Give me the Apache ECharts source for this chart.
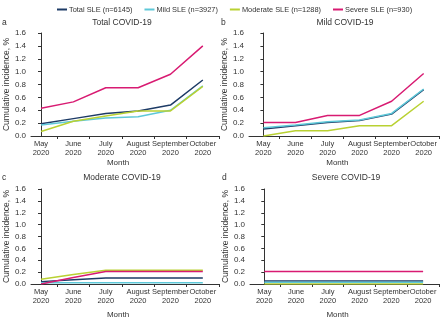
<!DOCTYPE html>
<html>
<head>
<meta charset="utf-8">
<script src="https://cdn.jsdelivr.net/npm/echarts@6/dist/echarts.min.js"></script>
<style>
  html, body { margin: 0; padding: 0; background: #fff; }
  #chart { width: 440px; height: 320px; }
</style>
</head>
<body>
<div id="chart"></div>
<script>
// categories and tick labels
const months = ['May\n2020', 'June\n2020', 'July\n2020', 'August\n2020', 'September\n2020', 'October\n2020']
const yTicks = [0, 0.2, 0.4, 0.6, 0.8, 1.0, 1.2, 1.4, 1.6]

const seriesNames = ['Total SLE (n=6145)', 'Mild SLE (n=3927)', 'Moderate SLE (n=1288)', 'Severe SLE (n=930)']
const panelTitles = ['Total COVID-19', 'Mild COVID-19', 'Moderate COVID-19', 'Severe COVID-19']
const panelLetters = ['a', 'b', 'c', 'd']

// a: total COVID-19
const totalA = [0.19, 0.27, 0.35, 0.39, 0.48, 0.87]
const mildA = [0.17, 0.23, 0.28, 0.30, 0.40, 0.78]
const moderateA = [0.07, 0.23, 0.31, 0.39, 0.39, 0.77]
const severeA = [0.43, 0.53, 0.75, 0.75, 0.96, 1.40]

// b: mild COVID-19
const totalB = [0.11, 0.16, 0.21, 0.24, 0.34, 0.72]
const mildB = [0.13, 0.17, 0.22, 0.25, 0.35, 0.73]
const moderateB = [0.0, 0.08, 0.08, 0.16, 0.16, 0.54]
const severeB = [0.21, 0.21, 0.32, 0.32, 0.54, 0.97]

// c: moderate COVID-19
const totalC = [0.04, 0.07, 0.10, 0.10, 0.10, 0.10]
const mildC = [0.02, 0.02, 0.02, 0.02, 0.02, 0.02]
const moderateC = [0.08, 0.16, 0.23, 0.23, 0.23, 0.23]
const severeC = [0.0, 0.11, 0.21, 0.21, 0.21, 0.21]

// d: severe COVID-19
const totalD = [0.05, 0.05, 0.05, 0.05, 0.05, 0.05]
const mildD = [0.03, 0.03, 0.03, 0.03, 0.03, 0.03]
const moderateD = [0.0, 0.0, 0.0, 0.0, 0.0, 0.0]
const severeD = [0.21, 0.21, 0.21, 0.21, 0.21, 0.21]

const panels = [
  [totalA, mildA, moderateA, severeA],
  [totalB, mildB, moderateB, severeB],
  [totalC, mildC, moderateC, severeC],
  [totalD, mildD, moderateD, severeD],
]

const colors = ['#1d3b66', '#5ec8d8', '#b9d132', '#d81b72']
const font = 'Liberation Sans, Arial, Helvetica, sans-serif'
const ink = '#333'

// layout per panel
const grids = [
  { left: 31, top: 33, width: 188, height: 103 },
  { left: 249, top: 33, width: 191, height: 103 },
  { left: 31, top: 189, width: 188, height: 102 },
  { left: 250, top: 189, width: 189, height: 102 },
]
const xMins = [-0.31, -0.45, -0.31, -0.45]
const letterPos = [[2, 18], [221, 18], [2, 173], [222, 173]]
const titlePos = [[122, 18], [345, 18], [122, 173], [346, 173]]

const chart = echarts.init(document.getElementById('chart'), null, { renderer: 'canvas' })

const titles = []
panels.forEach((_, i) => {
  titles.push({
    text: panelLetters[i],
    left: letterPos[i][0],
    top: letterPos[i][1],
    padding: 0,
    textStyle: { fontSize: 8.5, fontWeight: 'normal', color: ink, fontFamily: font },
  })
  titles.push({
    text: panelTitles[i],
    left: titlePos[i][0],
    top: titlePos[i][1],
    textAlign: 'center',
    padding: 0,
    textStyle: { fontSize: 8.5, fontWeight: 'normal', color: ink, fontFamily: font },
  })
})

const xAxes = grids.map((_, i) => ({
  type: 'value',
  gridIndex: i,
  min: xMins[i],
  max: months.length - 0.5,
  splitLine: { show: false },
  axisLine: { lineStyle: { color: ink, width: 1 } },
  axisTick: { customValues: months.map((_, k) => k + 0.5), length: 3, lineStyle: { color: ink } },
  axisLabel: {
    customValues: months.map((_, k) => k),
    formatter: (v) => months[Math.round(v)],
    fontSize: 7.5,
    lineHeight: 9,
    margin: 3,
    color: ink,
    fontFamily: font,
  },
  name: 'Month',
  nameLocation: 'middle',
  nameGap: i < 2 ? 23 : 27,
  nameTextStyle: { fontSize: 8, color: ink, fontFamily: font, padding: [0, 14, 0, 0] },
}))

const yAxes = grids.map((_, i) => ({
  type: 'value',
  gridIndex: i,
  min: yTicks[0],
  max: yTicks[yTicks.length - 1],
  interval: 0.2,
  splitLine: { show: false },
  axisLine: { show: true, lineStyle: { color: ink, width: 1 } },
  axisTick: { show: true, length: 3, lineStyle: { color: ink } },
  axisLabel: {
    formatter: (v) => v.toFixed(1),
    fontSize: 8,
    margin: 5,
    color: ink,
    fontFamily: font,
  },
  name: 'Cumulative incidence, %',
  nameLocation: 'middle',
  nameGap: 20,
  nameTextStyle: { fontSize: 8.5, color: ink, fontFamily: font },
}))

const series = []
panels.forEach((set, i) => {
  set.forEach((vals, s) => {
    series.push({
      type: 'line',
      name: seriesNames[s],
      xAxisIndex: i,
      yAxisIndex: i,
      showSymbol: false,
      symbol: 'none',
      color: colors[s],
      lineStyle: { width: 1.5, color: colors[s] },
      data: vals.map((v, k) => [k, v]),
    })
  })
})

chart.setOption({
  animation: false,
  textStyle: { fontFamily: font },
  title: titles,
  legend: {
    data: seriesNames,
    left: 57,
    top: 6,
    icon: 'rect',
    itemWidth: 10,
    itemHeight: 2,
    itemGap: 12,
    padding: 0,
    textStyle: { fontSize: 7.4, color: ink, fontFamily: font, padding: [0, 0, 0, -3] },
  },
  grid: grids,
  xAxis: xAxes,
  yAxis: yAxes,
  series,
})
</script>
</body>
</html>
